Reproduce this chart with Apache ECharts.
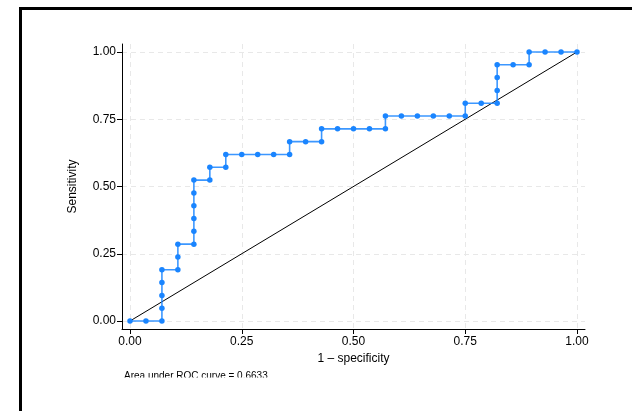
<!DOCTYPE html>
<html>
<head>
<meta charset="utf-8">
<script src="https://cdn.jsdelivr.net/npm/echarts@6/dist/echarts.min.js"></script>
<style>
html,body{margin:0;padding:0;background:#fff;}
#chart{width:632px;height:411px;}
</style>
</head>
<body>
<div id="chart"></div>
<script>
// 1 - specificity (x) and sensitivity (y) of the empirical ROC curve
var oneMinusSpec = [0, 0.0357, 0.0714, 0.0714, 0.0714, 0.0714, 0.0714, 0.1071, 0.1071, 0.1071,
  0.1429, 0.1429, 0.1429, 0.1429, 0.1429, 0.1429, 0.1786, 0.1786, 0.2143, 0.2143,
  0.25, 0.2857, 0.3214, 0.3571, 0.3571, 0.3929, 0.4286, 0.4286, 0.4643, 0.5,
  0.5357, 0.5714, 0.5714, 0.6071, 0.6429, 0.6786, 0.7143, 0.75, 0.75, 0.7857,
  0.8214, 0.8214, 0.8214, 0.8214, 0.8571, 0.8929, 0.8929, 0.9286, 0.9643, 1];
var sensitivity = [0, 0, 0, 0.0476, 0.0952, 0.1429, 0.1905, 0.1905, 0.2381, 0.2857,
  0.2857, 0.3333, 0.3810, 0.4286, 0.4762, 0.5238, 0.5238, 0.5714, 0.5714, 0.6190,
  0.6190, 0.6190, 0.6190, 0.6190, 0.6667, 0.6667, 0.6667, 0.7143, 0.7143, 0.7143,
  0.7143, 0.7143, 0.7619, 0.7619, 0.7619, 0.7619, 0.7619, 0.7619, 0.8095, 0.8095,
  0.8095, 0.8571, 0.9048, 0.9524, 0.9524, 0.9524, 1, 1, 1, 1];
var referenceLineX = [0, 1];
var referenceLineY = [0, 1];
var xTicks = [0, 0.25, 0.5, 0.75, 1];
var yTicks = [0, 0.25, 0.5, 0.75, 1];
var xTitle = '1 \u2013 specificity';
var yTitle = 'Sensitivity';
var noteText = 'Area under ROC curve = 0.6633';

var rocData = oneMinusSpec.map(function (x, i) { return [x, sensitivity[i]]; });
var refData = referenceLineX.map(function (x, i) { return [x, referenceLineY[i]]; });

var font = 'Liberation Sans, Arial, Helvetica, sans-serif';
var chart = echarts.init(document.getElementById('chart'), null, {renderer: 'canvas'});

chart.setOption({
  backgroundColor: '#ffffff',
  animation: false,
  grid: {left: 122, right: 47, top: 44, bottom: 82, containLabel: false},
  xAxis: {
    type: 'value',
    min: -0.0179, max: 1.0179,
    name: xTitle,
    nameLocation: 'middle',
    nameGap: 23,
    nameTextStyle: {fontFamily: font, fontSize: 12, color: '#000'},
    axisLine: {show: true, onZero: false, lineStyle: {color: '#000', width: 1}},
    axisTick: {show: true, length: 5, customValues: xTicks, lineStyle: {color: '#000'}},
    axisLabel: {customValues: xTicks, margin: 7, fontFamily: font, fontSize: 12, color: '#000',
      formatter: function (v) { return v.toFixed(2); }},
    splitLine: {show: true, lineStyle: {color: '#e8e8e8', type: [5, 4], width: 1}}
  },
  yAxis: {
    type: 'value',
    min: -0.0297, max: 1.0297,
    name: yTitle,
    nameLocation: 'middle',
    nameGap: 43,
    nameTextStyle: {fontFamily: font, fontSize: 12, color: '#000'},
    axisLine: {show: true, onZero: false, lineStyle: {color: '#000', width: 1}},
    axisTick: {show: true, length: 5, customValues: yTicks, lineStyle: {color: '#000'}},
    axisLabel: {customValues: yTicks, margin: 6, fontFamily: font, fontSize: 12, color: '#000',
      formatter: function (v) { return v.toFixed(2); }},
    splitLine: {show: true, lineStyle: {color: '#e8e8e8', type: [5, 4], width: 1}}
  },
  series: [
    {
      type: 'line',
      data: refData,
      showSymbol: false,
      symbol: 'none',
      lineStyle: {color: '#000', width: 1},
      z: 3,
      silent: true
    },
    {
      type: 'line',
      data: rocData,
      symbol: 'circle',
      symbolSize: 5.5,
      showAllSymbol: true,
      itemStyle: {color: '#1a85ff'},
      lineStyle: {color: '#1a85ff', width: 1.6, opacity: 0.85},
      z: 4,
      silent: true
    }
  ],
  graphic: [
    {
      type: 'text',
      left: 124,
      top: 371,
      style: {text: noteText, fontFamily: font, fontSize: 10, fill: '#000'},
      z: 10
    },
    {
      type: 'rect',
      shape: {x: 60, y: 377.5, width: 600, height: 40},
      style: {fill: '#fff'},
      z: 20,
      silent: true
    },
    {
      type: 'rect',
      shape: {x: 20.5, y: 8.5, width: 700, height: 500},
      style: {fill: 'none', stroke: '#000', lineWidth: 3},
      z: 30,
      silent: true
    }
  ]
});
</script>
</body>
</html>
